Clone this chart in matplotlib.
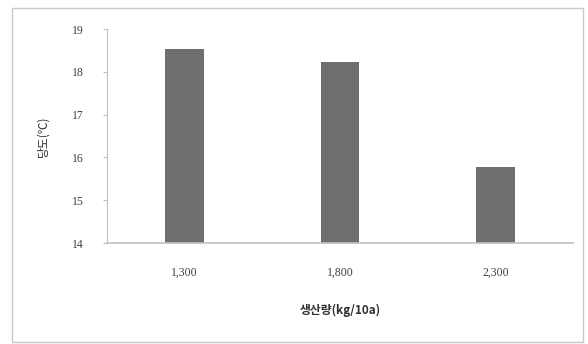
import matplotlib
matplotlib.use("Agg")
import matplotlib.pyplot as plt
from matplotlib.patches import Rectangle

categories = ["1,300", "1,800", "2,300"]
values = [18.53, 18.24, 15.78]
yticks = [14, 15, 16, 17, 18, 19]

fig = plt.figure(figsize=(5.88, 3.44), dpi=100)
fig.patches.append(Rectangle((12/588, 2/344), 571/588, 334/344, transform=fig.transFigure,
                             fill=False, edgecolor="#c8c8c8", linewidth=1))
ax = fig.add_axes([107/588, 1-243/344, 466/588, 214/344])
x = range(len(categories))
ax.bar(x, [v - 14 for v in values], bottom=14, width=0.25, color="#6f6f6f")
ax.set_ylim(14, 19)
ax.set_xlim(-0.5, 2.5)
ax.set_yticks(yticks)
ax.set_yticklabels([str(t) for t in yticks], family="Liberation Serif", fontsize=8.5, color="#404040")
ax.set_xticks(list(x))
ax.set_xticklabels(categories, family="Liberation Serif", fontsize=8.5, color="#404040")
ax.tick_params(axis="x", length=0, pad=17)
ax.tick_params(axis="y", length=3, color="#c0c0c0", pad=14)
for s in ["top", "right"]:
    ax.spines[s].set_visible(False)
ax.spines["left"].set_color("#c0c0c0")
ax.spines["bottom"].set_color("#c0c0c0")
ax.spines["bottom"].set_linewidth(1.2)
ax.set_ylabel("당도(℃)", family=["Noto Sans CJK KR", "DejaVu Sans"], fontsize=8.5, color="#303030", labelpad=16)
ax.set_xlabel("생산량(kg/10a)", family=["Noto Sans CJK KR", "DejaVu Sans"], fontsize=8.5,
              fontweight="bold", color="#303030", labelpad=18)
fig.savefig("out.png", dpi=100)
